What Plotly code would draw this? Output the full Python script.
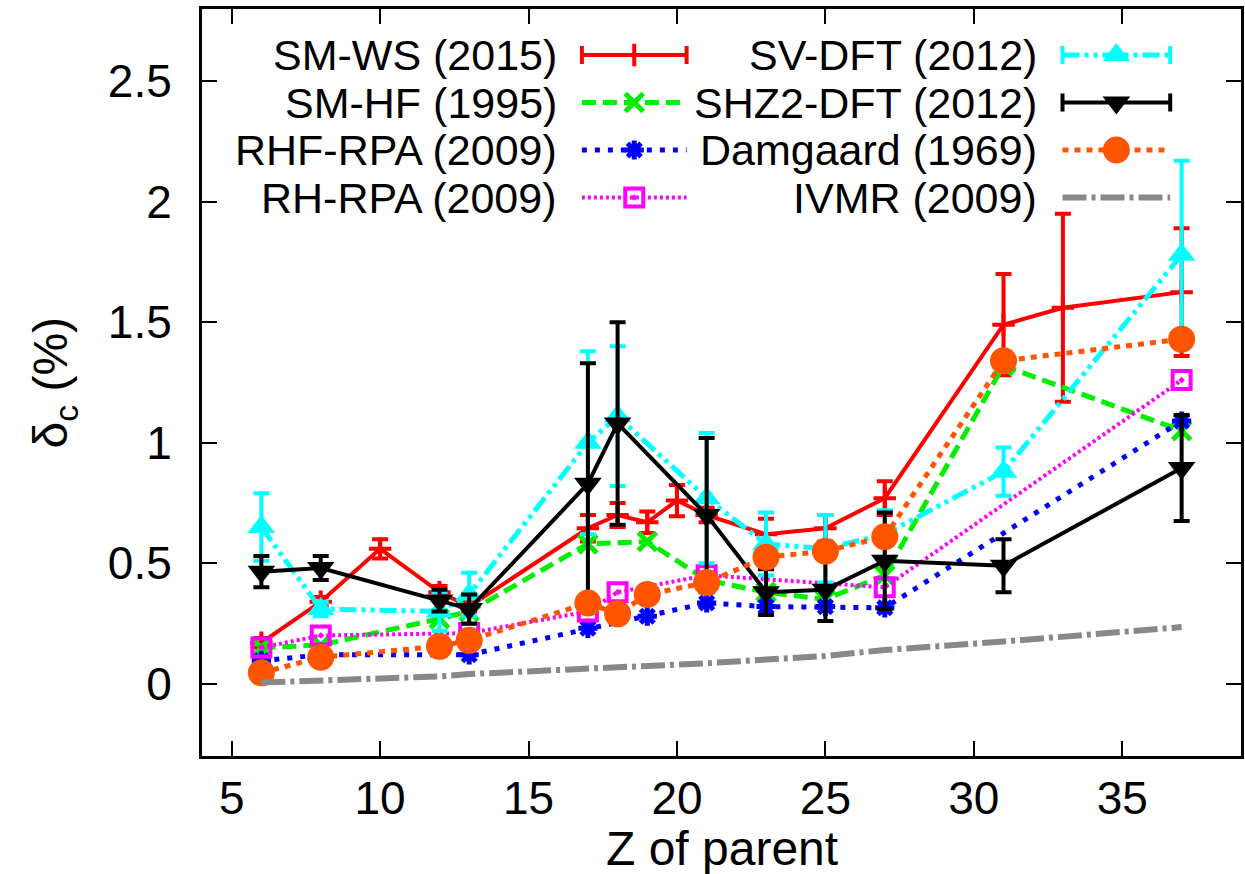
import plotly.graph_objects as go

# ---- data: isospin-symmetry-breaking correction delta_c (%) vs Z of parent ----
z_smws = [6, 8, 10, 12, 13, 17, 18, 19, 20, 21, 23, 25, 27, 31, 33, 37]
v_smws = [0.17, 0.34, 0.56, 0.38, 0.32, 0.645, 0.70, 0.67, 0.76, 0.70, 0.62, 0.645, 0.77, 1.49, 1.56, 1.625]
e_smws = [0.02, 0.02, 0.04, 0.025, 0.02, 0.055, 0.05, 0.045, 0.065, 0.03, 0.065, 0.055, 0.07, 0.21, 0.39, 0.265]

z_smhf = [6, 8, 12, 13, 17, 19, 21, 23, 25, 27, 31, 37]
v_smhf = [0.15, 0.16, 0.27, 0.30, 0.58, 0.59, 0.43, 0.38, 0.35, 0.45, 1.32, 1.05]

z_rhf = [6, 8, 13, 17, 19, 21, 23, 25, 27, 37]
v_rhf = [0.095, 0.12, 0.12, 0.23, 0.28, 0.335, 0.32, 0.32, 0.315, 1.09]

z_rh = [6, 8, 13, 17, 18, 21, 27, 37]
v_rh = [0.15, 0.20, 0.21, 0.30, 0.38, 0.45, 0.40, 1.26]

z_sv = [6, 8, 12, 13, 17, 18, 21, 23, 25, 27, 31, 37]
v_sv = [0.65, 0.31, 0.30, 0.37, 1.00, 1.11, 0.77, 0.58, 0.56, 0.62, 0.88, 1.78]
e_sv = [0.14, 0.03, 0.08, 0.09, 0.38, 0.29, 0.27, 0.13, 0.14, 0.10, 0.10, 0.39]

z_shz = [6, 8, 12, 13, 17, 18, 21, 23, 25, 27, 31, 37]
v_shz = [0.465, 0.48, 0.345, 0.31, 0.83, 1.08, 0.70, 0.38, 0.39, 0.51, 0.49, 0.895]
e_shz = [0.065, 0.05, 0.045, 0.06, 0.50, 0.42, 0.32, 0.095, 0.13, 0.20, 0.11, 0.22]

z_dam = [6, 8, 12, 13, 17, 18, 19, 21, 23, 25, 27, 31, 37]
v_dam = [0.045, 0.11, 0.155, 0.18, 0.335, 0.29, 0.37, 0.42, 0.525, 0.55, 0.61, 1.34, 1.43]

z_ivmr = [6, 8, 12, 13, 17, 18, 21, 23, 25, 27, 31, 37]
v_ivmr = [0.005, 0.012, 0.03, 0.04, 0.06, 0.065, 0.085, 0.10, 0.115, 0.14, 0.175, 0.235]

x_ticks = [5, 10, 15, 20, 25, 30, 35]
y_ticks = [0, 0.5, 1, 1.5, 2, 2.5]
y_tick_text = ["0", "0.5", "1", "1.5", "2", "2.5"]

# ---- page geometry (pixels) ----
W, H = 1245, 874
PL, PR, PT, PB = 202, 1244, 9, 756
FONT = "Liberation Sans, Arial, Helvetica, sans-serif"

series = [
    dict(name="SM-WS (2015)", x=z_smws, y=v_smws, err=e_smws, color="#ff0000",
         dash="solid", width=4, symbol="cross-thin", size=16, mlw=4),
    dict(name="SM-HF (1995)", x=z_smhf, y=v_smhf, err=None, color="#00ee00",
         dash="14px,7px", width=5, symbol="x-thin", size=18, mlw=5),
    dict(name="RHF-RPA (2009)", x=z_rhf, y=v_rhf, err=None, color="#0000ff",
         dash="5px,8px", width=5, symbol="asterisk", size=16, mlw=5),
    dict(name="RH-RPA (2009)", x=z_rh, y=v_rh, err=None, color="#ff00ff",
         dash="3px,3px", width=4, symbol="square-open-dot", size=18, mlw=4),
    dict(name="SV-DFT (2012)", x=z_sv, y=v_sv, err=e_sv, color="#00ffff",
         dash="17px,5px,4px,5px,4px,5px", width=5, symbol="triangle-up", size=24, mlw=0),
    dict(name="SHZ2-DFT (2012)", x=z_shz, y=v_shz, err=e_shz, color="#000000",
         dash="solid", width=4, symbol="triangle-down", size=24, mlw=0),
    dict(name="Damgaard (1969)", x=z_dam, y=v_dam, err=None, color="#ff5500",
         dash="6px,6px", width=5, symbol="circle", size=27, mlw=0),
    dict(name="IVMR (2009)", x=z_ivmr, y=v_ivmr, err=None, color="#888888",
         dash="24px,5px,4px,5px", width=6, symbol=None, size=0, mlw=0),
]

fig = go.Figure()

for s in series:
    tr = dict(
        x=s["x"], y=s["y"], name=s["name"], showlegend=False,
        mode="lines+markers" if s["symbol"] else "lines",
        line=dict(color=s["color"], width=s["width"], dash=s["dash"]),
        xaxis="x", yaxis="y",
    )
    if s["symbol"]:
        tr["marker"] = dict(symbol=s["symbol"], size=s["size"], color=s["color"],
                            line=dict(color=s["color"], width=s["mlw"]))
    if s["err"] is not None:
        tr["error_y"] = dict(type="data", array=s["err"], visible=True,
                             color=s["color"], thickness=4, width=8)
    fig.add_trace(go.Scatter(**tr))

# ---- key: two columns, text right-aligned with the line sample to its right ----
ROW0, ROW_STEP = 55, 47.5
cols = [dict(text_right=560, x0=583, x1=688), dict(text_right=1041, x0=1065, x1=1173)]
annotations = []
for i, s in enumerate(series):
    c = cols[i // 4]
    ry = ROW0 + ROW_STEP * (i % 4)
    annotations.append(dict(
        text=s["name"], xref="paper", yref="paper",
        x=(c["text_right"] - PL) / (PR - PL), y=1 - (ry - PT) / (PB - PT),
        xanchor="right", yanchor="middle", showarrow=False,
        font=dict(family=FONT, size=43, color="black"),
    ))
    fig.add_trace(go.Scatter(
        x=[c["x0"], c["x1"]], y=[ry, ry], mode="lines", showlegend=False,
        line=dict(color=s["color"], width=s["width"], dash=s["dash"]),
        xaxis="x2", yaxis="y2", hoverinfo="skip"))
    if s["err"] is not None:
        for ex in (c["x0"], c["x1"]):
            fig.add_trace(go.Scatter(
                x=[ex, ex], y=[ry - 9, ry + 9], mode="lines", showlegend=False,
                line=dict(color=s["color"], width=4),
                xaxis="x2", yaxis="y2", hoverinfo="skip"))
    if s["symbol"]:
        fig.add_trace(go.Scatter(
            x=[(c["x0"] + c["x1"]) / 2], y=[ry], mode="markers", showlegend=False,
            marker=dict(symbol=s["symbol"], size=s["size"], color=s["color"],
                        line=dict(color=s["color"], width=s["mlw"])),
            xaxis="x2", yaxis="y2", hoverinfo="skip"))

# axis titles
annotations.append(dict(
    text="Z of parent", xref="paper", yref="paper",
    x=0.5, y=-(848 - PB) / (PB - PT), xanchor="center", yanchor="middle",
    showarrow=False, font=dict(family=FONT, size=48, color="black")))
annotations.append(dict(
    text="δ<sub>c</sub> (%)", xref="paper", yref="paper", textangle=-90,
    x=(54 - PL) / (PR - PL), y=1 - (382 - PT) / (PB - PT),
    xanchor="center", yanchor="middle",
    showarrow=False, font=dict(family=FONT, size=48, color="black")))

axis_common = dict(
    showline=True, linewidth=3, linecolor="black", mirror="ticks",
    ticks="inside", ticklen=15, tickwidth=2, tickcolor="black",
    showgrid=False, zeroline=False,
    tickfont=dict(family=FONT, size=46, color="black"),
)

fig.update_layout(
    width=W, height=H,
    margin=dict(l=PL, r=W - PR, t=PT, b=H - PB, pad=0),
    paper_bgcolor="white", plot_bgcolor="white",
    showlegend=False,
    xaxis=dict(range=[4, 39], tickvals=x_ticks, ticklabelstandoff=0, **axis_common),
    yaxis=dict(range=[-0.3, 2.8], tickvals=y_ticks, ticktext=y_tick_text,
               ticklabelstandoff=18, **axis_common),
    xaxis2=dict(range=[PL, PR], overlaying="x", anchor="y2", visible=False, fixedrange=True),
    yaxis2=dict(range=[PB, PT], overlaying="y", anchor="x2", visible=False, fixedrange=True),
    annotations=annotations,
)

fig.write_html("out.html", config={"displayModeBar": False})
